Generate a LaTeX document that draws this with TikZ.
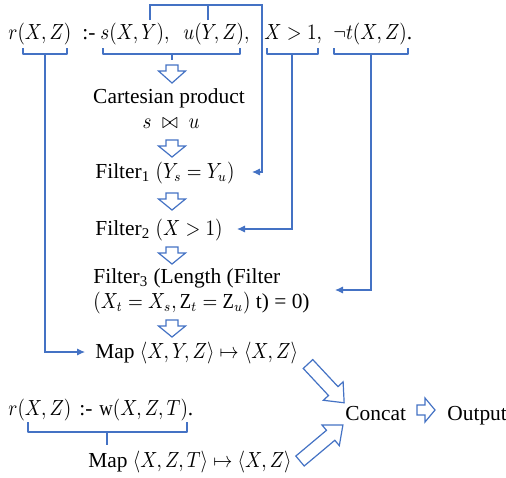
\documentclass[tikz,border=0pt]{standalone}
\usepackage{fontspec}
\usepackage{graphicx}
\setmainfont{Liberation Serif}
\usetikzlibrary{arrows.meta}
\definecolor{flowblue}{HTML}{4472C4}

% math set slightly condensed
\newcommand\mth[1]{\scalebox{0.87}[1]{$#1$}}

\tikzset{
  txt/.style={inner sep=0pt, anchor=base west, font=\fontsize{10.7}{13}\selectfont},
  ctxt/.style={txt, anchor=base},
  link/.style={draw=flowblue, line width=0.55pt},
  tolink/.style={link, -{Latex[length=4pt,width=3.6pt]}},
  brace/.style={draw=flowblue, line width=0.55pt, line join=round},
  arrowline/.style={draw=flowblue, fill=white, line width=0.6pt, line join=miter},
  % hollow block arrow: length, shaft half width, head half width, head length
  pics/harrow/.style n args={4}{code={
    \draw[arrowline] (0,-#2) -- ({#1-#4},-#2) -- ({#1-#4},-#3) -- (#1,0)
      -- ({#1-#4},#3) -- ({#1-#4},#2) -- (0,#2) -- cycle;}},
}

\begin{document}
\begin{tikzpicture}[x=0.5pt,y=-0.5pt]
\useasboundingbox (0,0) rectangle (506,477);

% ---- rule 1 ----
\node[txt] (hd)  at (8,39)   {\mth{r(X,Z)}};
\node[txt] (nk)  at (82,39)  {:-};
\node[txt] (bs)  at (100,39) {\mth{s(X,Y),}};
\node[txt] (bu)  at (183,39) {\mth{u(Y,Z),}};
\node[txt] (bx)  at (264,39) {\mth{X>1,}};
\node[txt] (bt)  at (333,39) {\mth{\neg t(X,Z)}.};

% braces under the literals
\draw[brace] (23,48) -- (23,54) -- (67,54) -- (67,48);
\draw[brace] (103,48) -- (103,54) -- (240,54) -- (240,48);
\draw[brace] (267,48) -- (267,54) -- (318,54) -- (318,48);
\draw[brace] (334,48) -- (334,54) -- (408,54) -- (408,48);
\coordinate (hdtick) at (45,54);
\coordinate (sutick) at (172,54);
\coordinate (bxtick) at (292,54);
\coordinate (bttick) at (371,54);
\draw[brace] (sutick) -- (172,60);

% pipeline of rule 1
\node[ctxt] (cp)  at (169,103) {Cartesian product};
\node[ctxt] (jn)  at (171,128) {\mth{s \;\bowtie\; u}};
\node[txt]  (f1)  at (95,178)  {Filter\textsubscript{1} \mth{(Y_s = Y_u)}};
\node[txt]  (f2)  at (95,235)  {Filter\textsubscript{2} \mth{(X > 1)}};
\node[txt]  (f3a) at (93,283)  {Filter\textsubscript{3} (Length (Filter};
\node[txt]  (f3b) at (93,308)  {\mth{(X_t = X_s, \mathrm{Z}_t = \mathrm{Z}_u)} t) = 0)};
\node[txt]  (m1)  at (95,358)  {Map \mth{\langle X,Y,Z\rangle \mapsto \langle X,Z\rangle}};

\pic[rotate=-90] at (172,65)  {harrow={18}{6}{13.5}{12}};
\pic[rotate=-90] at (172,140) {harrow={17}{6}{13.5}{11}};
\pic[rotate=-90] at (172,193) {harrow={17}{6}{13.5}{11}};
\pic[rotate=-90] at (172,247) {harrow={17}{6}{13.5}{11}};
\pic[rotate=-90] at (172,320) {harrow={17}{6}{13.5}{11}};

% join variables Y feed Filter 1
\coordinate (ys) at (150,20);
\coordinate (yu) at (208,20);
\coordinate (f1in) at (252,172);
\draw[link] (yu) -- (208,5);
\draw[tolink] (ys) -- (150,5) -| (262,172) -- (f1in);

% remaining literals feed their operators
\coordinate (f2in) at (237,229);
\coordinate (f3in) at (335,290);
\coordinate (m1in) at (85,352);
\draw[tolink] (bxtick) |- (f2in);
\draw[tolink] (bttick) |- (f3in);
\draw[tolink] (hdtick) |- (m1in);

% ---- rule 2 ----
\node[txt] (hd2) at (8,415)  {\mth{r(X,Z)}};
\node[txt] (nk2) at (79,415) {:-};
\node[txt] (bw)  at (99,415) {\mth{\mathrm{w}(X,Z,T)}.};
\draw[brace] (28,422) -- (28,432) -- (187,432) -- (187,422);
\draw[brace] (107,432) -- (107,445);
\node[txt] (m2) at (88,467) {Map \mth{\langle X,Z,T\rangle \mapsto \langle X,Z\rangle}};

% ---- union ----
\node[txt] (cc)  at (345,420) {Concat};
\node[txt] (out) at (447,420) {Output};
\pic[rotate=-47] at (308,364) {harrow={53}{6.5}{13.5}{16}};
\pic[rotate=40]  at (300,461) {harrow={56}{6.5}{13.5}{16}};
\pic at (417,410) {harrow={18}{5}{12}{10}};
\end{tikzpicture}
\end{document}
